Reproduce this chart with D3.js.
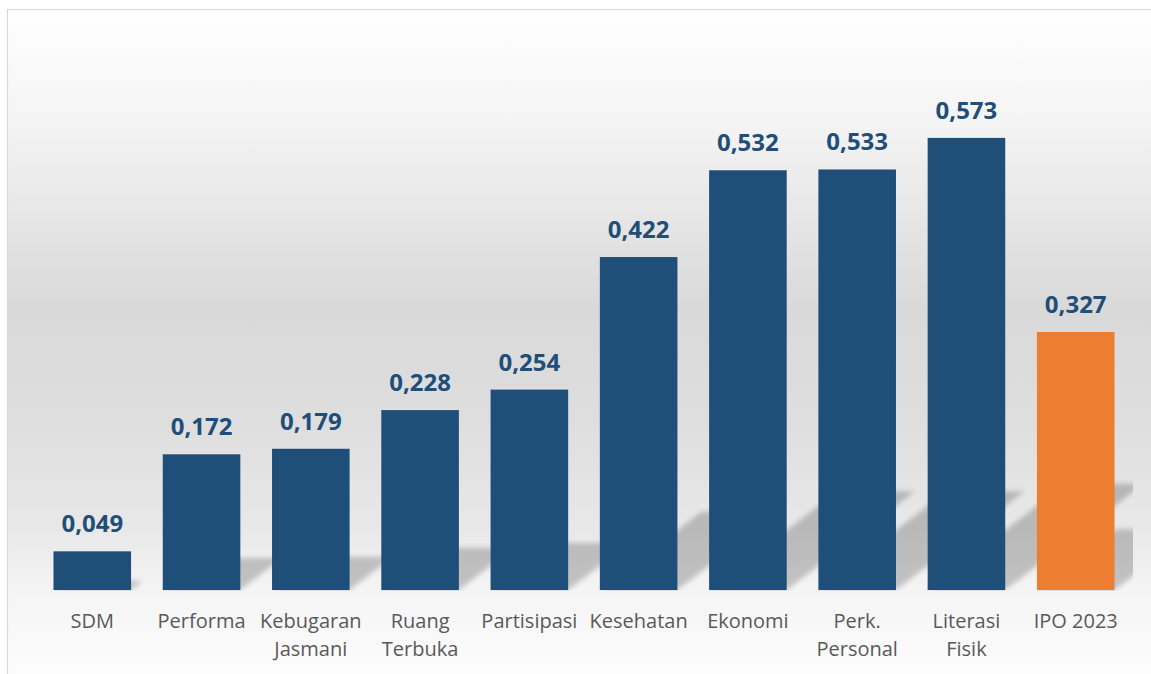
<!DOCTYPE html>
<html>
<head>
<meta charset="utf-8">
<script src="https://cdn.jsdelivr.net/npm/d3@7"></script>
<style>
  html, body { margin: 0; padding: 0; background: #ffffff; }
  svg { display: block; }
</style>
</head>
<body>
<svg id="chart" width="1151" height="674"></svg>
<script>
const categories = ["SDM", "Performa", "Kebugaran\nJasmani", "Ruang\nTerbuka", "Partisipasi", "Kesehatan", "Ekonomi", "Perk.\nPersonal", "Literasi\nFisik", "IPO 2023"];
const values = [0.049, 0.172, 0.179, 0.228, 0.254, 0.422, 0.532, 0.533, 0.573, 0.327];
const valueLabels = ["0,049", "0,172", "0,179", "0,228", "0,254", "0,422", "0,532", "0,533", "0,573", "0,327"];
const barColors = ["#1f4e79", "#1f4e79", "#1f4e79", "#1f4e79", "#1f4e79", "#1f4e79", "#1f4e79", "#1f4e79", "#1f4e79", "#ed7d31"];

const W = 1151, H = 674;
const svg = d3.select("#chart");
const defs = svg.append("defs");

const bg = defs.append("linearGradient").attr("id", "bg")
  .attr("gradientUnits", "userSpaceOnUse").attr("x1", 0).attr("y1", 9).attr("x2", 0).attr("y2", H);
[[0, "#ffffff"], [0.17, "#f4f4f4"], [0.45, "#d9d9d9"], [0.62, "#dedede"], [0.78, "#e8e8e8"], [0.88, "#f5f5f5"], [1, "#fcfcfc"]]
  .forEach(([o, c]) => bg.append("stop").attr("offset", o).attr("stop-color", c));

defs.append("filter").attr("id", "blur").attr("x", "-10%").attr("y", "-10%").attr("width", "120%").attr("height", "120%")
  .append("feGaussianBlur").attr("stdDeviation", 2.5);
defs.append("clipPath").attr("id", "plotClip").append("rect")
  .attr("x", 37).attr("y", 0).attr("width", 1096).attr("height", 591);

// chart area
svg.append("rect").attr("x", 7).attr("y", 9).attr("width", W - 7).attr("height", H - 9).attr("fill", "url(#bg)");
svg.append("line").attr("x1", 7.5).attr("x2", 7.5).attr("y1", 9).attr("y2", H).attr("stroke", "#d9d9d9").attr("stroke-width", 1.2);
svg.append("line").attr("x1", 7).attr("x2", W).attr("y1", 9.5).attr("y2", 9.5).attr("stroke", "#d9d9d9").attr("stroke-width", 1.2);

const x = d3.scaleBand().domain(categories).range([36, 1132]).paddingInner(0.29).paddingOuter(0.16);
const y = d3.scaleLinear().domain([0, 0.7]).range([590, 37.7]);
const data = categories.map((c, i) => ({ c, v: values[i], lab: valueLabels[i], col: barColors[i] }));

// perspective shadows
const shadowG = svg.append("g").attr("clip-path", "url(#plotClip)")
  .append("g").attr("filter", "url(#blur)").attr("opacity", 0.2);
shadowG.selectAll("path").data(data).join("path")
  .attr("fill", "#000")
  .attr("d", d => {
    const x0 = x(d.c), x1 = x(d.c) + x.bandwidth();
    const base = y(0), h = y(0) - y(d.v);
    const sh = h * 0.235, dx = sh / 0.77;
    return `M${x0},${base}L${x1},${base}L${x1 + dx},${base - sh}L${x0 + dx},${base - sh}Z`;
  });

// bars
svg.append("g").selectAll("rect").data(data).join("rect")
  .attr("x", d => x(d.c)).attr("y", d => y(d.v))
  .attr("width", x.bandwidth()).attr("height", d => y(0) - y(d.v))
  .attr("fill", d => d.col);

// value labels
svg.append("g").selectAll("text").data(data).join("text")
  .attr("x", d => x(d.c) + x.bandwidth() / 2)
  .attr("y", d => y(d.v) - 19)
  .attr("text-anchor", "middle")
  .attr("font-family", "'Open Sans', sans-serif")
  .attr("font-weight", 700).attr("font-size", 24)
  .attr("fill", "#1f4e79")
  .text(d => d.lab);

// category axis labels
const xAxis = svg.append("g").attr("transform", `translate(0,${y(0)})`)
  .call(d3.axisBottom(x).tickSize(0).tickFormat(""));
xAxis.select(".domain").remove();
xAxis.selectAll(".tick").each(function(d) {
  const t = d3.select(this).append("text")
    .attr("text-anchor", "middle")
    .attr("font-family", "'Open Sans', sans-serif")
    .attr("font-size", 20).attr("fill", "#595959");
  d.split("\n").forEach((line, i) => {
    t.append("tspan").attr("x", 0).attr("y", 37.7 + i * 28).text(line);
  });
});
</script>
</body>
</html>
